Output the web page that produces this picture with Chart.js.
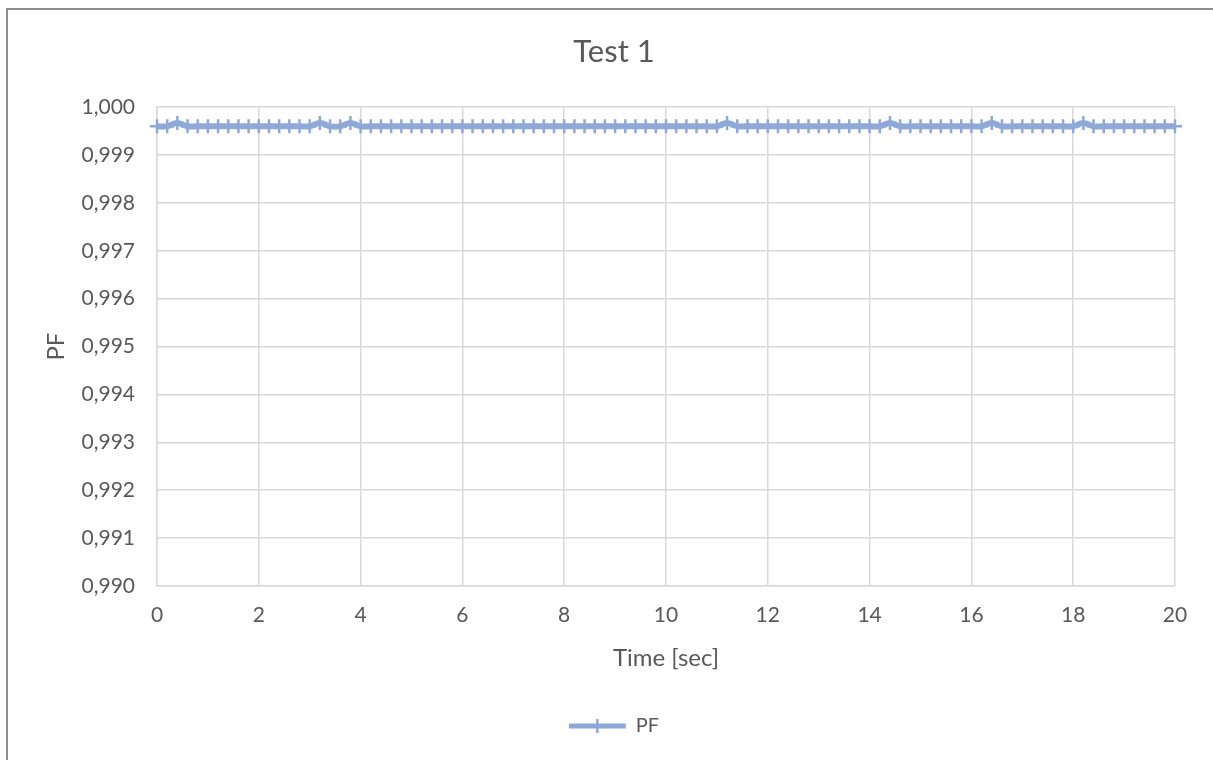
<!DOCTYPE html>
<html>
<head>
<meta charset="utf-8">
<script src="https://cdn.jsdelivr.net/npm/chart.js@4.4.1/dist/chart.umd.min.js"></script>
<style>
  html, body { margin: 0; padding: 0; background: #ffffff; overflow: hidden; }
  #frame { position: absolute; left: 6px; top: 8px; width: 1400px; height: 900px;
           border-left: 2px solid #8c8c8c; border-top: 2px solid #8c8c8c; }
  #wrap { position: absolute; left: 0; top: 0; width: 1213px; height: 760px; }
</style>
</head>
<body>
<div id="frame"></div>
<div id="wrap"><canvas id="c" width="1213" height="760"></canvas></div>
<script>
// ---- data ----
const chartTitle = 'Test 1';
const seriesName = 'PF';
const xAxisTitle = 'Time [sec]';
const yAxisTitle = 'PF';

const timeSec = [
  0, 0.2, 0.4, 0.6, 0.8, 1, 1.2, 1.4, 1.6, 1.8,
  2, 2.2, 2.4, 2.6, 2.8, 3, 3.2, 3.4, 3.6, 3.8,
  4, 4.2, 4.4, 4.6, 4.8, 5, 5.2, 5.4, 5.6, 5.8,
  6, 6.2, 6.4, 6.6, 6.8, 7, 7.2, 7.4, 7.6, 7.8,
  8, 8.2, 8.4, 8.6, 8.8, 9, 9.2, 9.4, 9.6, 9.8,
  10, 10.2, 10.4, 10.6, 10.8, 11, 11.2, 11.4, 11.6, 11.8,
  12, 12.2, 12.4, 12.6, 12.8, 13, 13.2, 13.4, 13.6, 13.8,
  14, 14.2, 14.4, 14.6, 14.8, 15, 15.2, 15.4, 15.6, 15.8,
  16, 16.2, 16.4, 16.6, 16.8, 17, 17.2, 17.4, 17.6, 17.8,
  18, 18.2, 18.4, 18.6, 18.8, 19, 19.2, 19.4, 19.6, 19.8,
  20
];

const pfValues = [
  0.9996, 0.9996, 0.99967, 0.9996, 0.9996, 0.9996, 0.9996, 0.9996, 0.9996, 0.9996,
  0.9996, 0.9996, 0.9996, 0.9996, 0.9996, 0.9996, 0.99967, 0.9996, 0.9996, 0.99967,
  0.9996, 0.9996, 0.9996, 0.9996, 0.9996, 0.9996, 0.9996, 0.9996, 0.9996, 0.9996,
  0.9996, 0.9996, 0.9996, 0.9996, 0.9996, 0.9996, 0.9996, 0.9996, 0.9996, 0.9996,
  0.9996, 0.9996, 0.9996, 0.9996, 0.9996, 0.9996, 0.9996, 0.9996, 0.9996, 0.9996,
  0.9996, 0.9996, 0.9996, 0.9996, 0.9996, 0.9996, 0.99967, 0.9996, 0.9996, 0.9996,
  0.9996, 0.9996, 0.9996, 0.9996, 0.9996, 0.9996, 0.9996, 0.9996, 0.9996, 0.9996,
  0.9996, 0.9996, 0.99967, 0.9996, 0.9996, 0.9996, 0.9996, 0.9996, 0.9996, 0.9996,
  0.9996, 0.9996, 0.99967, 0.9996, 0.9996, 0.9996, 0.9996, 0.9996, 0.9996, 0.9996,
  0.9996, 0.99967, 0.9996, 0.9996, 0.9996, 0.9996, 0.9996, 0.9996, 0.9996, 0.9996,
  0.9996
];

const xTickLabels = ['0', '2', '4', '6', '8', '10', '12', '14', '16', '18', '20'];
const yTickLabels = ['0,990', '0,991', '0,992', '0,993', '0,994', '0,995', '0,996', '0,997', '0,998', '0,999', '1,000'];

// ---- styles ----
const lineColor = '#8EA9D8';
const textColor = '#595959';
const gridColor = '#d9d9d9';
const FONT = 'Lato, "Open Sans", sans-serif';

const points = timeSec.map((t, i) => ({ x: t, y: pfValues[i] }));

const legendTick = {
  id: 'legendTick',
  afterDraw(chart) {
    const lg = chart.legend;
    if (!lg || !lg.legendHitBoxes || !lg.legendHitBoxes.length) return;
    const hb = lg.legendHitBoxes[0];
    const bw = lg.options.labels.boxWidth;
    const cx = hb.left + bw / 2;
    const cy = hb.top + hb.height / 2;
    const ctx = chart.ctx;
    ctx.save();
    ctx.strokeStyle = lineColor;
    ctx.lineWidth = 2.5;
    ctx.beginPath();
    ctx.moveTo(cx, cy - 7);
    ctx.lineTo(cx, cy + 7);
    ctx.stroke();
    ctx.restore();
  }
};

new Chart(document.getElementById('c'), {
  type: 'line',
  data: {
    datasets: [{
      label: seriesName,
      data: points,
      borderColor: lineColor,
      backgroundColor: lineColor,
      borderWidth: 6,
      tension: 0.4,
      pointStyle: 'cross',
      pointRadius: 7,
      pointBorderWidth: 2.5,
      pointBorderColor: lineColor,
      pointBackgroundColor: lineColor,
      clip: false
    }]
  },
  options: {
    responsive: false,
    devicePixelRatio: 1,
    animation: false,
    layout: { padding: { left: 41, right: 26, top: 0, bottom: 14 } },
    plugins: {
      tooltip: { enabled: false },
      title: {
        display: true,
        text: chartTitle,
        color: textColor,
        font: { family: FONT, size: 31, weight: 'normal' },
        padding: { top: 33, bottom: 37 }
      },
      legend: {
        display: true,
        position: 'bottom',
        labels: {
          color: textColor,
          font: { family: FONT, size: 20 },
          boxWidth: 57,
          boxHeight: 5,
          padding: 14,
          generateLabels: () => [{
            text: seriesName, fillStyle: lineColor, strokeStyle: lineColor,
            lineWidth: 0, hidden: false, datasetIndex: 0, fontColor: textColor
          }]
        }
      }
    },
    scales: {
      x: {
        type: 'linear',
        min: 0, max: 20,
        afterFit: (s) => { s.height = 116; },
        grid: { color: gridColor, lineWidth: 1.5, drawTicks: false },
        border: { color: gridColor, width: 1.5 },
        ticks: {
          stepSize: 2,
          color: textColor,
          padding: 17,
          maxRotation: 0,
          font: { family: FONT, size: 21 },
          callback: (v, i) => xTickLabels[i]
        },
        title: {
          display: true, text: xAxisTitle, color: textColor,
          font: { family: FONT, size: 24 },
          padding: { top: 29, bottom: 29 }
        }
      },
      y: {
        min: 0.990, max: 1.000,
        afterFit: (s) => { s.width = 116; },
        grid: { color: gridColor, lineWidth: 1.5, drawTicks: false },
        border: { color: gridColor, width: 1.5 },
        ticks: {
          stepSize: 0.001,
          color: textColor,
          padding: 22,
          font: { family: FONT, size: 21 },
          callback: (v, i) => yTickLabels[i]
        },
        title: {
          display: true, text: yAxisTitle, color: textColor,
          font: { family: FONT, size: 24 },
          padding: { top: 0.6, bottom: 0.6 }
        }
      },
      yR: {
        position: 'right',
        display: true,
        afterFit: (s) => { s.width = 12; },
        grid: { display: false, drawTicks: false },
        border: { display: false },
        ticks: { display: false }
      }
    }
  },
  plugins: [legendTick]
});
</script>
</body>
</html>
